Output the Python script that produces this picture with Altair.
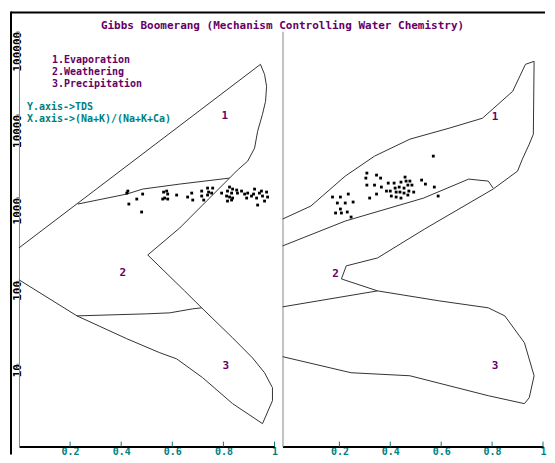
import altair as alt
import pandas as pd

FONT = "DejaVu Sans Mono"
PURPLE = "#660066"
TEAL = "#008080"
LINE = "#333333"

TITLE = "Gibbs Boomerang (Mechanism Controlling Water Chemistry)"
LEGEND_LINES = ["1.Evaporation", "2.Weathering", "3.Precipitation"]
AXIS_NOTES = ["Y.axis->TDS", "X.axis->(Na+K)/(Na+K+Ca)"]

X_TICKS = [0.2, 0.4, 0.6, 0.8, 1.0]
Y_TICKS = [10, 100, 1000, 10000, 100000]

# ---------------- left panel boundaries ----------------
left_outer_x = [0.0, 0.945, 0.961, 0.969, 0.965, 0.953, 0.934, 0.922, 0.895, 0.855, 0.824,
                0.734, 0.629, 0.504, 0.648, 0.715, 0.836, 0.914, 0.961, 0.992, 0.992, 0.953,
                0.836, 0.719, 0.617, 0.551, 0.422, 0.227, 0.0]
left_outer_y = [247, 40100, 30400, 21800, 14400, 10050, 6280, 3925, 2740, 2135, 1711,
                905, 429, 203, 75, 46.9, 20.4, 11.7, 7.75, 5.12, 3.57, 1.89,
                3.29, 6.75, 11.4, 13.5, 19.9, 37.5, 102]
left_evap_x = [0.230, 0.422, 0.484, 0.629, 0.824]
left_evap_y = [833, 1099, 1262, 1449, 1711]
left_prec_x = [0.227, 0.500, 0.590, 0.680, 0.715]
left_prec_y = [37.5, 39.7, 40.8, 45.6, 46.9]

# ---------------- right panel boundaries ----------------
right_outer_x = [-0.023, 0.088, 0.223, 0.338, 0.477, 0.631, 0.762, 0.881, 0.931, 0.965, 0.962,
                 0.946, 0.919, 0.900, 0.804, 0.535, 0.350, 0.227, 0.208, 0.350, 0.592, 0.785,
                 0.850, 0.927, 0.965, 0.946, 0.927, 0.785, 0.477, 0.246, -0.023]
right_outer_y = [550, 788, 1808, 3146, 5035, 6825, 9000, 19000, 40100, 43600, 5780,
                 4385, 2895, 2077, 1262, 417, 187, 150, 104.5, 75, 56.9, 46.9,
                 37.5, 17.8, 7.13, 3.88, 3.29, 4.10, 7.13, 7.75, 12.1]
right_evap_x = [-0.023, 0.223, 0.531, 0.708, 0.785, 0.804]
right_evap_y = [261, 520, 984, 1664, 1574, 1297]
right_prec_x = [-0.023, 0.350]
right_prec_y = [48.2, 75]

# ---------------- samples ----------------
left_pts_x = [0.422, 0.426, 0.430, 0.461, 0.484, 0.480, 0.566, 0.578, 0.582, 0.570, 0.5625,
              0.582, 0.617, 0.660, 0.676, 0.680, 0.715, 0.715, 0.723, 0.738, 0.758, 0.742,
              0.754, 0.738, 0.793, 0.824, 0.816, 0.832, 0.836, 0.852, 0.8125, 0.824, 0.836,
              0.816, 0.832, 0.855, 0.871, 0.883, 0.895, 0.922, 0.918, 0.930, 0.941, 0.949,
              0.953, 0.969, 0.973, 0.961, 0.934, 0.910, 0.891]
left_pts_y = [1129, 1194, 833, 957, 1099, 668, 1161, 1194, 1099, 984, 957,
              957, 1069, 1012, 1129, 931, 1194, 1040, 931, 1297, 1297, 1161,
              1129, 1069, 1129, 1334, 1194, 1129, 1262, 1227, 1040, 1012, 984,
              905, 931, 1129, 1194, 1099, 1129, 1262, 1099, 984, 1129, 1194,
              1040, 1161, 1012, 905, 810, 1040, 984]
right_pts_x = [0.569, 0.308, 0.346, 0.304, 0.362, 0.458, 0.523, 0.538, 0.308, 0.338, 0.365,
               0.392, 0.415, 0.442, 0.462, 0.477, 0.573, 0.588, 0.385, 0.400, 0.419, 0.435,
               0.454, 0.469, 0.485, 0.423, 0.438, 0.454, 0.473, 0.492, 0.404, 0.423, 0.442,
               0.469, 0.346, 0.319, 0.173, 0.204, 0.235, 0.192, 0.223, 0.254, 0.204, 0.185,
               0.208, 0.231, 0.246]
right_pts_y = [3146, 1965, 1859, 1711, 1711, 1759, 1619, 1449, 1409, 1409, 1334,
               1489, 1489, 1531, 1574, 1574, 1334, 1040, 1194, 1194, 1297, 1334,
               1297, 1409, 1409, 1161, 1161, 1129, 1194, 1161, 1040, 1012, 984,
               1069, 1099, 984, 1012, 1012, 1099, 857, 857, 881, 726, 650,
               650, 668, 581]

# region numbers
region_text = ["1", "2", "3"]
left_region_x = [0.805, 0.406, 0.809]
left_region_y = [9510, 123, 9.4]
right_region_x = [0.812, 0.185, 0.812]
right_region_y = [9250, 120, 9.4]

H = 416
W_LEFT = 256
W_RIGHT = 261


def lines_df(groups):
    rows = []
    for name, xs, ys in groups:
        for i, (x, y) in enumerate(zip(xs, ys)):
            rows.append({"line": name, "order": i, "x": x, "tds": y})
    return pd.DataFrame(rows)


def one_row():
    return pd.DataFrame({"k": [0]})


def x_axis():
    return alt.Axis(values=X_TICKS, format="~g", ticks=False, tickSize=0, labelPadding=0,
                    domainColor="black", domainWidth=2, labelColor=TEAL, labelFont=FONT,
                    labelFontSize=10, labelFontWeight="bold", grid=False, title=None,
                    labelFlush=False, labelOverlap=False)


def panel(domain, width, outer, evap, prec, px, py, rx, ry, left):
    xs = alt.Scale(domain=domain, nice=False, zero=False)
    ys = alt.Scale(type="log", domain=[1, 100000], nice=False)
    if left:
        yax = alt.Axis(values=Y_TICKS, format="d", labelAngle=270, labelAlign="right",
                       labelBaseline="alphabetic", labelPadding=-4.5, tickSize=3,
                       tickColor="#888888", domainColor="#888888", labelColor="black",
                       labelFont=FONT, labelFontSize=11, labelFontWeight="bold",
                       grid=False, title=None, labelFlush=False, labelOverlap=False)
    else:
        yax = alt.Axis(labels=False, ticks=False, domainColor="#888888", grid=False, title=None)
    X = alt.X("x:Q", scale=xs, axis=x_axis())
    Y = alt.Y("tds:Q", scale=ys, axis=yax)

    df_lines = lines_df([("outer", *outer), ("evap", *evap), ("prec", *prec)])
    lines = alt.Chart(df_lines).mark_line(color=LINE, strokeWidth=1).encode(
        x=X, y=Y, detail="line:N", order="order:Q")
    pts = alt.Chart(pd.DataFrame({"x": px, "tds": py})).mark_square(
        size=8, color="black", opacity=1).encode(x=X, y=Y)
    ticks = alt.Chart(pd.DataFrame({"x": X_TICKS})).mark_rule(color=TEAL, strokeWidth=1).encode(
        x=X, y=alt.value(H - 5), y2=alt.value(H))
    regions = alt.Chart(pd.DataFrame({"x": rx, "tds": ry, "t": region_text})).mark_text(
        font=FONT, fontSize=11, fontWeight="bold", color=PURPLE, align="center",
        baseline="middle").encode(x=X, y=Y, text="t:N")
    layers = [lines, pts, ticks, regions]
    if left:
        frame_top = alt.Chart(one_row()).mark_rule(color="black", strokeWidth=2).encode(
            x=alt.value(-8), x2=alt.value(527), y=alt.value(-19))
        frame_left = alt.Chart(one_row()).mark_rule(color="black", strokeWidth=2).encode(
            x=alt.value(-8), y=alt.value(-20), y2=alt.value(424))
        title = alt.Chart(one_row()).mark_text(
            font=FONT, fontSize=11, fontWeight="bold", color=PURPLE, align="center",
            baseline="alphabetic").encode(x=alt.value(264), y=alt.value(-2), text=alt.value(TITLE))
        legend = alt.Chart(one_row()).mark_text(
            font=FONT, fontSize=10, fontWeight="bold", color=PURPLE, align="left",
            baseline="alphabetic", lineHeight=11.8).encode(
            x=alt.value(33), y=alt.value(32), text=alt.value(LEGEND_LINES))
        notes = alt.Chart(one_row()).mark_text(
            font=FONT, fontSize=10, fontWeight="bold", color=TEAL, align="left",
            baseline="alphabetic", lineHeight=11.8).encode(
            x=alt.value(8), y=alt.value(79), text=alt.value(AXIS_NOTES))
        layers += [frame_top, frame_left, title, legend, notes]
    return alt.layer(*layers).properties(width=width, height=H)


left = panel([0, 1], W_LEFT, (left_outer_x, left_outer_y), (left_evap_x, left_evap_y),
             (left_prec_x, left_prec_y), left_pts_x, left_pts_y, left_region_x, left_region_y, True)
right = panel([-0.0235, 1], W_RIGHT, (right_outer_x, right_outer_y), (right_evap_x, right_evap_y),
              (right_prec_x, right_prec_y), right_pts_x, right_pts_y, right_region_x,
              right_region_y, False)

chart = alt.hconcat(left, right, spacing=8, bounds="flush").properties(
    padding={"left": 2, "top": 2, "right": 0, "bottom": 0}
).configure_view(stroke=None)

chart.save("out.html", embed_options={"renderer": "svg", "actions": False})
